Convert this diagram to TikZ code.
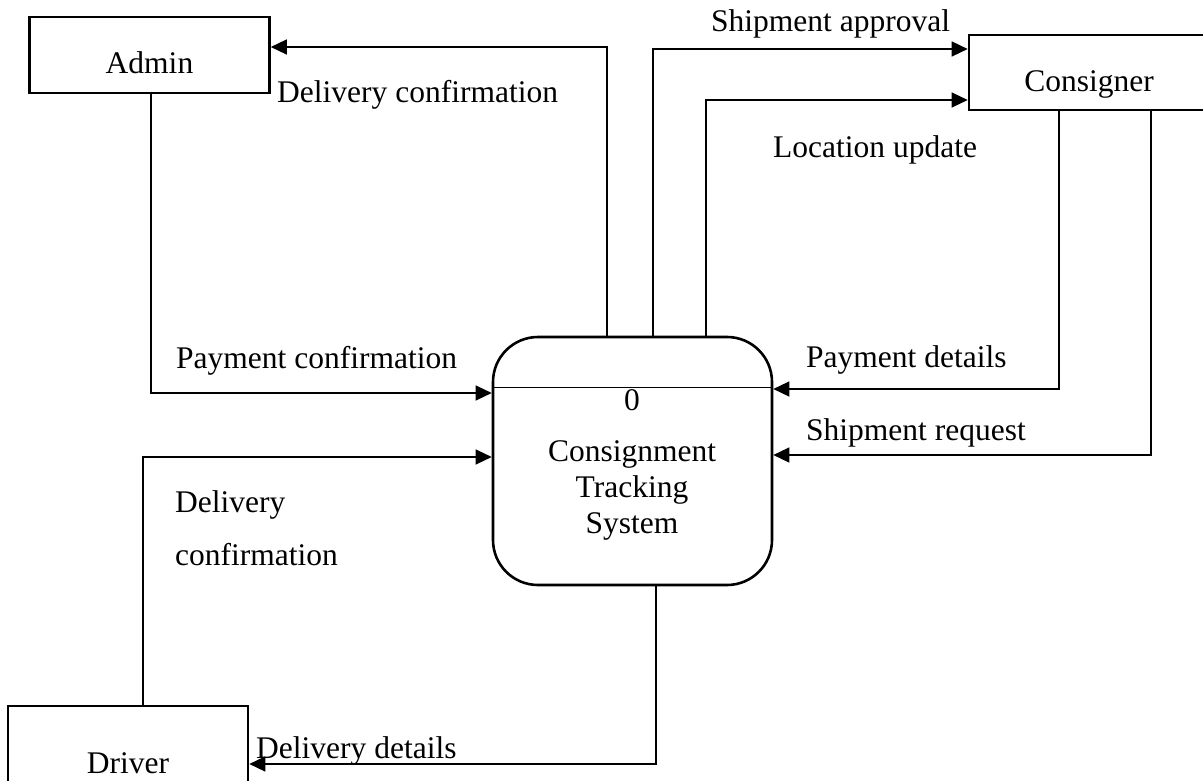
\documentclass[tikz,border=0pt]{standalone}
\usepackage{fontspec}
\setmainfont{Liberation Serif}
\usetikzlibrary{arrows.meta}
\begin{document}
\begin{tikzpicture}[x=1pt,y=-1pt,
  ent/.style={draw, line width=2.6pt, minimum width=240pt, inner sep=0pt},
  proc/.style={draw, line width=2.6pt, rounded corners=45pt, minimum width=279pt, minimum height=248pt, inner sep=0pt},
  flow/.style={line width=1.4pt, -{Triangle[length=16pt,width=15pt]}},
  lbl/.style={anchor=base west, inner sep=0pt},
  font=\fontsize{31.5}{36}\selectfont]
\useasboundingbox (0,0) rectangle (1203,781);

% entities
\node[ent, minimum height=76pt, text height=38pt, text depth=0pt] (admin) at (149.5,55) {Admin};
\node[ent, minimum height=75pt, text height=39pt, text depth=0pt] (con) at (1089,72.5) {Consigner};
\node[ent, minimum height=114pt] (driver) at (128,763) {Driver};

% process
\node[proc] (c) at (632.5,461) {};
\draw[line width=1.4pt] ([yshift=-52pt]c.north west) -- ([yshift=-52pt]c.north east);
\node[anchor=base, inner sep=0pt] (zero) at (632,410) {0};
\node[align=center, inner sep=0pt] (title) at (632,490) {Consignment\\Tracking\\System};

% flows
\draw[flow] ([xshift=-25.5pt]c.north) |- ([yshift=8pt]admin.east);
\draw[flow] ([xshift=20.5pt]c.north) |- ([yshift=23.5pt]con.west);
\draw[flow] ([xshift=73.5pt]c.north) |- ([yshift=-27.5pt]con.west);
\draw[flow] ([xshift=-30pt]con.south) |- ([yshift=72pt]c.east);
\draw[flow] ([xshift=62pt]con.south) |- ([yshift=6pt]c.east);
\draw[flow] ([xshift=1.5pt]admin.south) |- ([yshift=68pt]c.west);
\draw[flow] ([xshift=15pt]driver.north) |- ([yshift=4pt]c.west);
\draw[flow] ([xshift=23.5pt]c.south) |- ([yshift=-1pt]driver.east);

% labels
\node[lbl] (l1) at (277,103) {Delivery confirmation};
\node[lbl] (l2) at (711,32) {Shipment approval};
\node[lbl] (l3) at (773,158) {Location update};
\node[lbl] (l4) at (806,367) {Payment details};
\node[lbl] (l5) at (806,440) {Shipment request};
\node[lbl] (l6) at (176,368) {Payment confirmation};
\node[lbl] (l7) at (175,512) {Delivery};
\node[lbl] (l7b) at (175,565) {confirmation};
\node[lbl] (l8) at (256,758) {Delivery details};
\end{tikzpicture}
\end{document}
